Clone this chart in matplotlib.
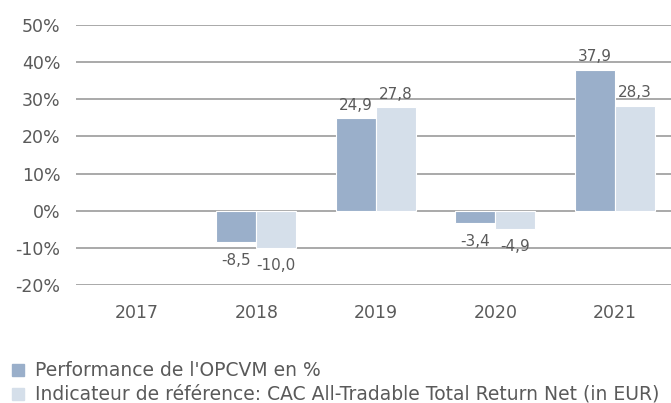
import matplotlib
matplotlib.use('Agg')
import matplotlib.pyplot as plt
import numpy as np
from matplotlib.patches import Rectangle

plt.rcParams['font.family'] = ['DejaVu Sans']

# Données
annees = ['2017', '2018', '2019', '2020', '2021']
opcvm = [np.nan, -8.5, 24.9, -3.4, 37.9]
reference = [np.nan, -10.0, 27.8, -4.9, 28.3]
noms_series = ["Performance de l'OPCVM en %",
               "Indicateur de référence: CAC All-Tradable Total Return Net (in EUR)"]
yticks = [-20, -10, 0, 10, 20, 30, 40, 50]

couleurs = ['#9AAFCA', '#D5DFEA']
gris_texte = '#5A5A5A'

fig = plt.figure(figsize=(6.71, 4.03), dpi=100)
ax = fig.add_axes([0.113, 0.2928, 0.887, 0.6452])

x = np.arange(len(annees))
w = 0.335
for k, (vals, col) in enumerate(zip([opcvm, reference], couleurs)):
    off = (k - 0.5) * w
    ax.bar(x + off, vals, width=w, color=col, edgecolor='white',
           linewidth=0.8, zorder=3)
    for xi, v in zip(x, vals):
        if np.isnan(v):
            continue
        txt = f'{v:.1f}'.replace('.', ',')
        if v >= 0:
            ax.annotate(txt, (xi + off, v), xytext=(0, 4), textcoords='offset points',
                        ha='center', va='bottom', fontsize=11, color=gris_texte, zorder=4)
        else:
            ax.annotate(txt, (xi + off, v), xytext=(0, -7.5), textcoords='offset points',
                        ha='center', va='top', fontsize=11, color=gris_texte, zorder=4)

ax.set_ylim(-20, 50)
ax.set_xlim(-0.51, 4.47)
ax.set_yticks(yticks)
ax.set_yticklabels([f'{t}%' for t in yticks])
ax.set_xticks(x)
ax.set_xticklabels(annees)
ax.tick_params(axis='both', length=0, labelsize=12.5, colors=gris_texte)
ax.tick_params(axis='y', pad=11)
ax.tick_params(axis='x', pad=14)
ax.grid(True, axis='y', color='#A3A3A3', linewidth=1.3, zorder=1)
for s in ax.spines.values():
    s.set_visible(False)

# Légende manuelle
for i, (nom, col) in enumerate(zip(noms_series, couleurs)):
    yc = 1 - (370 + 23.5 * i) / 403
    fig.patches.append(Rectangle((12 / 671, yc - 6 / 403), 12 / 671, 12 / 403,
                                 transform=fig.transFigure, color=col))
    fig.text(35 / 671, yc, nom, fontsize=13.5, color=gris_texte, va='center')

plt.savefig('out.png', dpi=100)
